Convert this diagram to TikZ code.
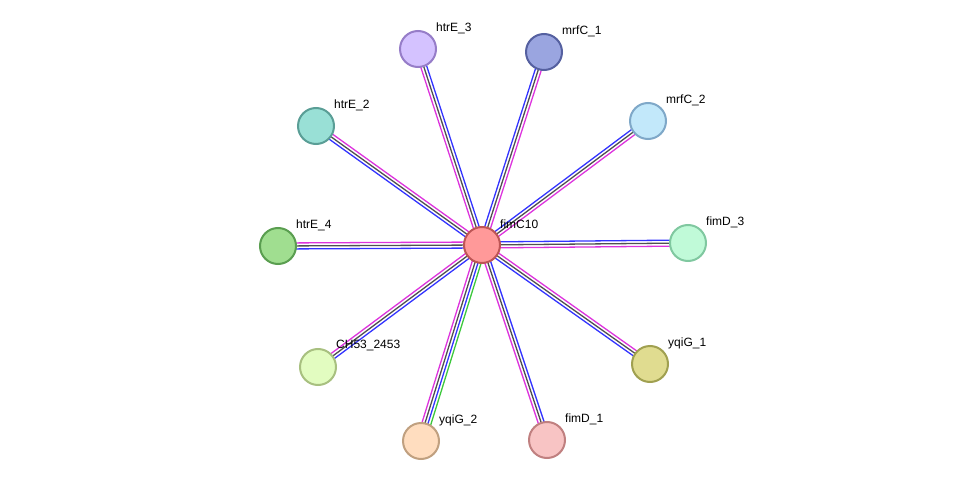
\documentclass[tikz,border=0pt]{standalone}
\usepackage{fontspec}
\setmainfont{Liberation Sans}
\usetikzlibrary{calc,backgrounds}

\definecolor{evblue}{RGB}{51,51,255}
\definecolor{evpink}{RGB}{221,51,221}
\definecolor{evgrey}{RGB}{80,80,80}
\definecolor{evgreen}{RGB}{60,200,60}

\tikzset{
    prot/.style={draw,circle,minimum size=36pt,inner sep=0pt,line width=2pt},
    tag/.style={anchor=west,inner sep=0pt,font=\fontsize{12}{14}\selectfont},
    strand/.style={line width=1.3pt}
}

%% one strand of a link, shifted sideways by #4
\newcommand{\strandline}[4]{%
    \draw[strand,#3] ($(#1.center)!#4!90:(#2.center)$) -- ($(#2.center)!#4!-90:(#1.center)$);}
%% three-strand link
\newcommand{\link}[2]{%
    \strandline{#1}{#2}{evpink}{-3pt}
    \strandline{#1}{#2}{evgrey}{0pt}
    \strandline{#1}{#2}{evblue}{3pt}}

\begin{document}
\begin{tikzpicture}[x=1pt,y=-1pt]
        \useasboundingbox (0,0) rectangle (975,487);
        %% Proteins
        \node[prot,fill={rgb,255:red,255;green,153;blue,153},draw={rgb,255:red,190;green,85;blue,85}] (fimC10) at (482,245) {};
        \node[prot,fill={rgb,255:red,212;green,194;blue,255},draw={rgb,255:red,150;green,125;blue,200}] (htrE3) at (418,49) {};
        \node[prot,fill={rgb,255:red,154;green,165;blue,224},draw={rgb,255:red,85;green,96;blue,160}] (mrfC1) at (544,52) {};
        \node[prot,fill={rgb,255:red,153;green,224;blue,214},draw={rgb,255:red,90;green,158;blue,150}] (htrE2) at (316,126) {};
        \node[prot,fill={rgb,255:red,194;green,232;blue,250},draw={rgb,255:red,127;green,168;blue,200}] (mrfC2) at (648,121) {};
        \node[prot,fill={rgb,255:red,160;green,222;blue,144},draw={rgb,255:red,90;green,158;blue,80}] (htrE4) at (278,246) {};
        \node[prot,fill={rgb,255:red,192;green,250;blue,216},draw={rgb,255:red,128;green,200;blue,160}] (fimD3) at (688,243) {};
        \node[prot,fill={rgb,255:red,226;green,252;blue,192},draw={rgb,255:red,168;green,192;blue,128}] (CH53) at (318,367) {};
        \node[prot,fill={rgb,255:red,224;green,220;blue,144},draw={rgb,255:red,160;green,160;blue,80}] (yqiG1) at (650,364) {};
        \node[prot,fill={rgb,255:red,255;green,221;blue,191},draw={rgb,255:red,192;green,160;blue,128}] (yqiG2) at (421,441) {};
        \node[prot,fill={rgb,255:red,248;green,196;blue,196},draw={rgb,255:red,192;green,128;blue,128}] (fimD1) at (547,440) {};
        %% Names
        \node[tag] (fimC10-t) at ($(fimC10)+(18,-21)$) {fimC10};
        \node[tag] (htrE3-t) at ($(htrE3)+(18,-21)$) {htrE\_3};
        \node[tag] (mrfC1-t) at ($(mrfC1)+(18,-21)$) {mrfC\_1};
        \node[tag] (htrE2-t) at ($(htrE2)+(18,-21)$) {htrE\_2};
        \node[tag] (mrfC2-t) at ($(mrfC2)+(18,-21)$) {mrfC\_2};
        \node[tag] (htrE4-t) at ($(htrE4)+(18,-21)$) {htrE\_4};
        \node[tag] (fimD3-t) at ($(fimD3)+(18,-21)$) {fimD\_3};
        \node[tag] (CH53-t) at ($(CH53)+(18,-21)$) {CH53\_2453};
        \node[tag] (yqiG1-t) at ($(yqiG1)+(18,-21)$) {yqiG\_1};
        \node[tag] (yqiG2-t) at ($(yqiG2)+(18,-21)$) {yqiG\_2};
        \node[tag] (fimD1-t) at ($(fimD1)+(18,-21)$) {fimD\_1};
        %% Links
        \begin{pgfonlayer}{background}
            \link{htrE3}{fimC10}
            \link{fimC10}{mrfC1}
            \link{fimC10}{htrE2}
            \link{fimC10}{mrfC2}
            \link{fimC10}{htrE4}
            \link{fimC10}{fimD3}
            \link{fimC10}{CH53}
            \link{yqiG1}{fimC10}
            \link{fimC10}{fimD1}
            \strandline{fimC10}{yqiG2}{evpink}{-4.5pt}
            \strandline{fimC10}{yqiG2}{evgrey}{-1.5pt}
            \strandline{fimC10}{yqiG2}{evblue}{1.5pt}
            \strandline{fimC10}{yqiG2}{evgreen}{4.5pt}
        \end{pgfonlayer}
    \end{tikzpicture}
\end{document}
